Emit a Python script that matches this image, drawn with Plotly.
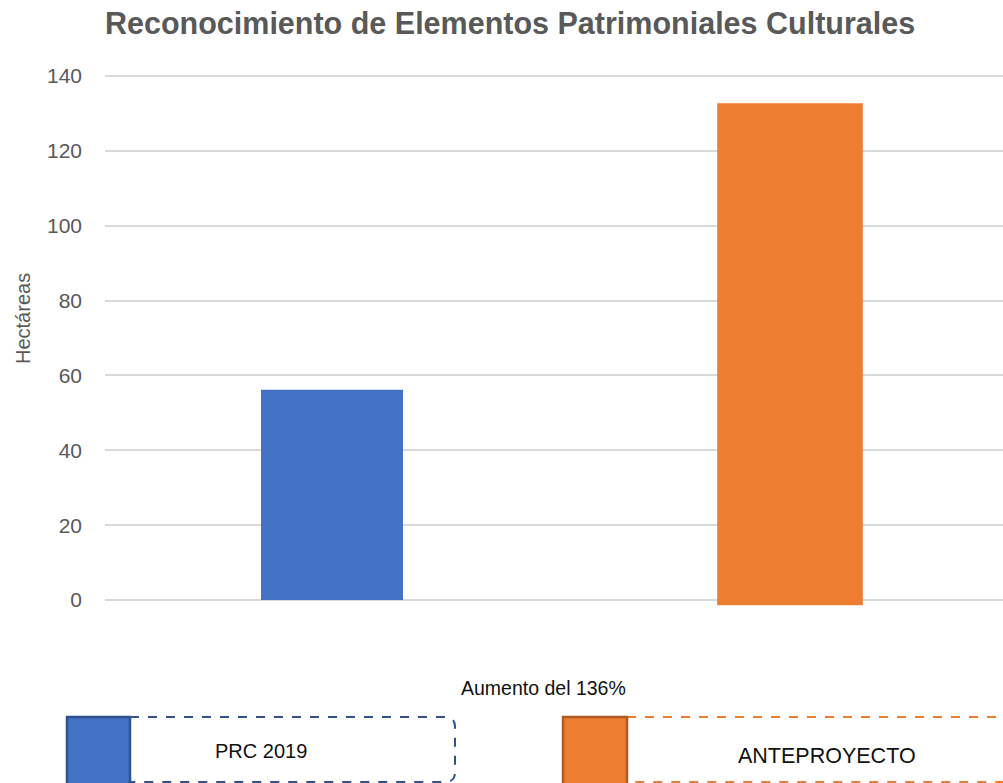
import plotly.graph_objects as go

# Data
categories = ["PRC 2019", "ANTEPROYECTO"]
hectareas = [56.2, 132.7]
bar_base = [0, -1.4]
bar_colors = ["#4472C4", "#ED7D31"]
bar_widths = [0.31, 0.318]
y_ticks = [0, 20, 40, 60, 80, 100, 120, 140]

W, H = 1003, 783
L, R, T, B = 105, 0, 60, 163
PW, PH = W - L - R, H - T - B


def px(x):
    return (x - L) / PW


def py(y):
    return (H - B - y) / PH


fig = go.Figure()
fig.add_trace(go.Bar(
    x=categories,
    y=[v - b for v, b in zip(hectareas, bar_base)],
    base=bar_base,
    width=bar_widths,
    marker=dict(color=bar_colors, line=dict(width=0)),
    showlegend=False,
    hoverinfo="skip",
))

shapes = []
annotations = []

# Legend swatches and dashed label boxes
legend_items = [
    dict(label="PRC 2019", fill="#4472C4", edge="#2F528F", sq=(66, 130),
         box_right=455, text_x=261, text_y=751, size=20),
    dict(label="ANTEPROYECTO", fill="#ED7D31", edge="#AE5A21", sq=(562, 627),
         box_right=1030, text_x=827, text_y=756, dash_color="#ED7D31", size=21.5),
]
top, bot, rad = 717, 782, 10
for it in legend_items:
    x0, x1 = it["sq"]
    dash_col = it.get("dash_color", it["edge"])
    xr = it["box_right"]
    path = (f"M {px(x1)},{py(top)} L {px(xr - rad)},{py(top)} "
            f"Q {px(xr)},{py(top)} {px(xr)},{py(top + rad)} "
            f"L {px(xr)},{py(bot - rad)} "
            f"Q {px(xr)},{py(bot)} {px(xr - rad)},{py(bot)} "
            f"L {px(x1)},{py(bot)}")
    shapes.append(dict(type="path", path=path, xref="paper", yref="paper",
                       line=dict(color=dash_col, width=2, dash="dash")))
    shapes.append(dict(type="rect", xref="paper", yref="paper",
                       x0=px(x0 + 1), x1=px(x1), y0=py(top), y1=py(bot + 4),
                       fillcolor=it["fill"], line=dict(color=it["edge"], width=2.5)))
    annotations.append(dict(text=it["label"], xref="paper", yref="paper",
                            x=px(it["text_x"]), y=py(it["text_y"]),
                            showarrow=False, xanchor="center", yanchor="middle",
                            font=dict(size=it["size"], color="#111111")))

annotations.append(dict(text="Aumento del 136%", xref="paper", yref="paper",
                        x=px(543), y=py(688), showarrow=False,
                        xanchor="center", yanchor="middle",
                        font=dict(size=19.5, color="#111111")))

annotations.append(dict(text="Hectáreas", xref="paper", yref="paper",
                        x=px(23), y=py(319), showarrow=False, textangle=-90,
                        xanchor="center", yanchor="middle",
                        font=dict(size=20, color="#595959")))

annotations.append(dict(text="<b>Reconocimiento de Elementos Patrimoniales Culturales</b>",
                        xref="paper", yref="paper", x=px(510), y=py(23),
                        showarrow=False, xanchor="center", yanchor="middle",
                        font=dict(size=30.5, color="#595959")))

fig.update_layout(
    width=W, height=H,
    margin=dict(l=L, r=R, t=T, b=B, pad=0),
    paper_bgcolor="white", plot_bgcolor="white",
    font=dict(family="Liberation Sans, Arial, sans-serif"),
    shapes=shapes,
    annotations=annotations,
    xaxis=dict(range=[-0.4956, 1.465], showticklabels=False, showgrid=False,
               zeroline=False, showline=False, ticks=""),
    yaxis=dict(range=[-5.34, 144.27], tickvals=y_ticks,
               showgrid=True, gridcolor="#D9D9D9", gridwidth=2,
               zeroline=False, showline=False, ticks="",
               ticklabelstandoff=22,
               tickfont=dict(size=21, color="#595959")),
)

fig.write_html("out.html")
